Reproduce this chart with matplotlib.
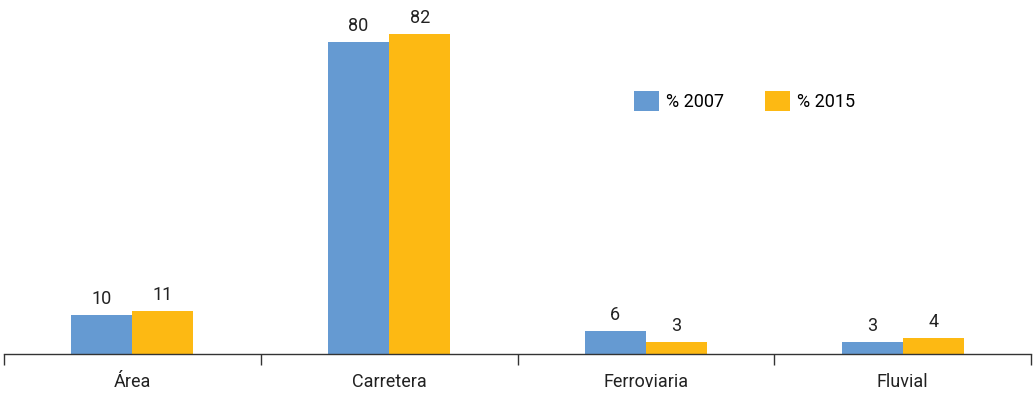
import numpy as np
import matplotlib.pyplot as plt

plt.rcParams['font.family'] = ['Roboto', 'DejaVu Sans']

categories = ['Área', 'Carretera', 'Ferroviaria', 'Fluvial']
pct_2007 = [10, 80, 6, 3]
pct_2015 = [11, 82, 3, 4]

blue = '#659AD2'
orange = '#FDB913'
fs = 13

fig = plt.figure(figsize=(10.34, 3.94), dpi=100)
ax = fig.add_axes([4/1034, 40/394, 1027/1034, 351/394])

x = np.arange(len(categories))
w = 0.238
b1 = ax.bar(x - w/2, pct_2007, w, color=blue, label='% 2007')
b2 = ax.bar(x + w/2, pct_2015, w, color=orange, label='% 2015')

for bars in (b1, b2):
    ax.bar_label(bars, padding=5, fontsize=fs, color='#222222')

ax.set_xlim(-0.5, 3.5)
ax.set_ylim(0, 90)

for s in ('top', 'right', 'left'):
    ax.spines[s].set_visible(False)
ax.spines['bottom'].set_color('#333333')
ax.spines['bottom'].set_linewidth(1)
ax.set_yticks([])

ax.set_xticks(x)
ax.set_xticklabels(categories, fontsize=fs, color='#222222')
ax.set_xticks(np.arange(-0.5, 4, 1), minor=True)
ax.tick_params(axis='x', which='major', length=0, pad=14)
ax.tick_params(axis='x', which='minor', length=8, width=1, color='#333333')

ax.legend(loc='upper left', bbox_to_anchor=(627/1034, 1 - 84/394),
          bbox_transform=fig.transFigure, ncol=2, frameon=False,
          fontsize=fs, handlelength=1.35, handleheight=1.35,
          handletextpad=0.4, columnspacing=2.3, borderaxespad=0)

plt.savefig('out.png')
